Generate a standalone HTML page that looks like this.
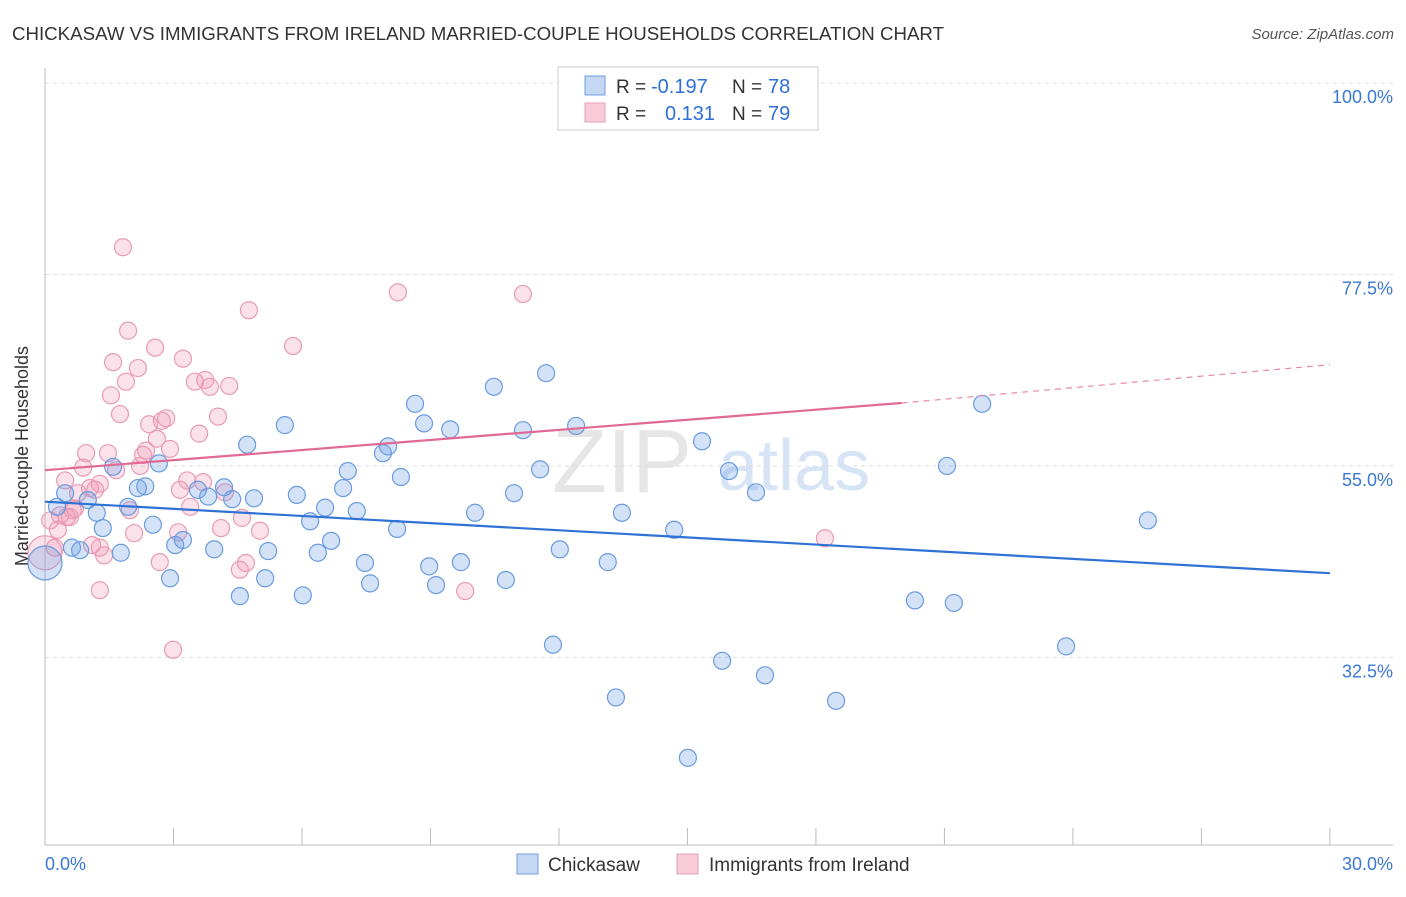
<!DOCTYPE html>
<html><head><meta charset="utf-8"><style>
body{margin:0;background:#fff;font-family:"Liberation Sans",sans-serif;}
svg text{font-family:"Liberation Sans",sans-serif;}
</style></head><body>
<svg id="chart" width="1406" height="892" xmlns="http://www.w3.org/2000/svg">
<text x="12" y="40" font-size="18" fill="#333" textLength="932" lengthAdjust="spacingAndGlyphs">CHICKASAW VS IMMIGRANTS FROM IRELAND MARRIED-COUPLE HOUSEHOLDS CORRELATION CHART</text>
<text x="1394" y="39" font-size="15" fill="#555" font-style="italic" text-anchor="end">Source: ZipAtlas.com</text>
<text x="28" y="456" font-size="18" fill="#333" text-anchor="middle" transform="rotate(-90 28 456)">Married-couple Households</text>
<text x="552" y="492" font-size="90" fill="#e6e6e6" font-family="Liberation Serif">ZIP</text>
<text x="718" y="490" font-size="72" fill="#d6e4f5">atlas</text>
<g id="grid"></g><g id="pts"></g><g id="lines"></g>
<g>
<rect x="558" y="67" width="260" height="63" fill="#fff" stroke="#ccc"/>
<rect x="585" y="76" width="20" height="19" fill="#c4d8f4" stroke="#6f9ee0"/>
<rect x="585" y="103" width="20" height="19" fill="#f8cbd9" stroke="#e89bb5"/>
<text x="616" y="93" font-size="19" fill="#333">R =</text>
<text x="651" y="93" font-size="20" fill="#2f6fd6">-0.197</text>
<text x="732" y="93" font-size="19" fill="#333">N =</text>
<text x="768" y="93" font-size="20" fill="#2f6fd6">78</text>
<text x="616" y="120" font-size="19" fill="#333">R =</text>
<text x="665" y="120" font-size="20" fill="#2f6fd6">0.131</text>
<text x="732" y="120" font-size="19" fill="#333">N =</text>
<text x="768" y="120" font-size="20" fill="#2f6fd6">79</text>
</g>
<g>
<rect x="517" y="854" width="21" height="20" fill="#c4d8f4" stroke="#6f9ee0"/>
<text x="548" y="871" font-size="19" fill="#333">Chickasaw</text>
<rect x="677" y="854" width="21" height="20" fill="#f8cbd9" stroke="#e89bb5"/>
<text x="709" y="871" font-size="19" fill="#333">Immigrants from Ireland</text>
</g>
<text x="45" y="870" font-size="18" fill="#3a78d4">0.0%</text>
<text x="1393" y="870" font-size="18" fill="#3a78d4" text-anchor="end">30.0%</text>
</svg>
<script>
const yTicks=[100,77.5,55,32.5];
const yTickLabels=["100.0%","77.5%","55.0%","32.5%"];
const xTicks=[0,3,6,9,12,15,18,21,24,27,30];
const blueX=[0,.28,.47,.63,.82,1.0,1.21,1.35,1.77,1.59,1.94,2.17,2.34,2.52,2.66,2.92,3.04,3.22,3.57,3.81,3.95,4.18,4.37,4.55,4.72,4.88,5.14,5.21,5.6,5.88,6.02,6.19,6.37,6.54,6.68,6.96,7.07,7.28,7.47,7.59,7.89,8.01,8.22,8.31,8.64,8.85,8.97,9.13,9.46,9.71,10.04,10.48,10.76,10.95,11.16,11.56,11.7,11.86,12.02,12.4,13.14,13.33,13.47,14.69,15.01,15.34,15.81,15.97,16.6,16.81,18.47,20.31,21.06,21.22,21.88,23.84,25.75];
const blueY=[43.6,50.2,51.8,45.4,45.1,51.0,49.5,47.7,44.8,54.9,50.2,52.4,52.6,48.1,55.3,41.8,45.7,46.3,52.2,51.4,45.2,52.5,51.1,39.7,57.5,51.2,41.8,45.0,59.8,51.6,39.8,48.5,44.8,50.1,46.2,52.4,54.4,49.7,43.6,41.2,56.5,57.3,47.6,53.7,62.3,60.0,43.2,41.0,59.3,43.7,49.5,64.3,41.6,51.8,59.2,54.6,65.9,34.0,45.2,59.7,43.7,27.8,49.5,47.5,20.7,57.9,32.1,54.4,51.9,30.4,27.4,39.2,55.0,38.9,62.3,33.8,48.6];
const pinkX=[0,.12,.23,.35,.47,.58,.65,.77,.89,.96,1.05,1.17,1.28,1.38,1.47,1.54,1.59,1.66,1.75,1.82,1.89,1.94,1.98,2.08,2.17,2.22,2.29,2.36,2.43,2.57,2.61,2.68,2.73,2.83,2.92,2.99,3.11,3.15,3.22,3.32,3.39,3.5,3.6,3.69,3.74,3.85,4.04,4.11,4.2,4.3,4.55,4.6,4.69,4.76,5.02,5.79,8.24,9.81,11.16,18.21,.3,.51,1.1,1.28,.7,1.28];
const pinkY=[44.8,48.6,45.4,49.2,53.3,49.0,49.8,51.8,54.8,56.5,52.4,52.2,52.9,44.5,56.5,63.3,67.2,54.5,61.1,80.7,64.9,70.9,49.8,47.1,66.5,55.0,56.3,56.8,59.9,68.9,58.2,43.7,60.3,60.6,57.0,33.4,47.2,52.2,67.6,53.3,50.2,64.9,58.8,53.1,65.1,64.3,60.8,47.7,51.9,64.4,42.8,48.9,43.6,73.3,47.4,69.1,75.4,40.3,75.2,46.5,47.5,49.0,45.7,45.4,50.0,40.4];
const blueLine=[[0,50.8],[30,42.4]];
const pinkSolid=[[0,54.5],[20,62.4]];
const pinkDash=[[20,62.4],[30,66.9]];
const NS="http://www.w3.org/2000/svg";
const xs=v=>45+v*42.83, ys=v=>83+(100-v)*8.51;
function mk(t,a,p){const e=document.createElementNS(NS,t);for(const k in a)e.setAttribute(k,a[k]);p.appendChild(e);return e;}
const grid=document.getElementById('grid');
yTicks.forEach((t,i)=>{
 const l=mk('line',{x1:45,x2:1393,y1:ys(t),y2:ys(t),stroke:'#ddd','stroke-dasharray':'4,4'},grid);
 
 
 const tx=mk('text',{x:1393,y:ys(t)+20,'font-size':18,fill:'#3a78d4','text-anchor':'end'},grid);
 tx.textContent=yTickLabels[i];
 
 
});
const ax=mk('line',{x1:45,x2:45,y1:68,y2:845,stroke:'#bbb'},grid);


const bx=mk('line',{x1:45,x2:1393,y1:845,y2:845,stroke:'#bbb'},grid);


xTicks.forEach(t=>{
 const l=mk('line',{x1:xs(t),x2:xs(t),y1:828,y2:845,stroke:'#bbb'},grid);
 
 
});
const pts=document.getElementById('pts');
function dots(X,Y,fill,stroke,name){
 X.forEach((x,i)=>{
  const r=(i===0)?17:8.5;
  const c=mk('circle',{cx:xs(x),cy:ys(Y[i]),r:r,fill:fill,stroke:stroke,'stroke-width':1.2},pts);
  
  
 });
}
dots(pinkX,pinkY,'rgba(242,150,180,0.28)','#e99ab4','point-ireland');
dots(blueX,blueY,'rgba(110,160,230,0.3)','#6a9be0','point-chickasaw');
const lines=document.getElementById('lines');
function ln(p,col,dash,name){
 const l=mk('line',{x1:xs(p[0][0]),y1:ys(p[0][1]),x2:xs(p[1][0]),y2:ys(p[1][1]),stroke:col,'stroke-width':dash?1.2:2.2},lines);
 if(dash)l.setAttribute('stroke-dasharray','6,5');
 
 
}
ln(blueLine,'#2f72d6',false,'trend-line-chickasaw');
ln(pinkSolid,'#e06a95',false,'trend-line-ireland');
ln(pinkDash,'#e88aab',true,'trend-line-ireland-extension');
</script>
</body></html>
